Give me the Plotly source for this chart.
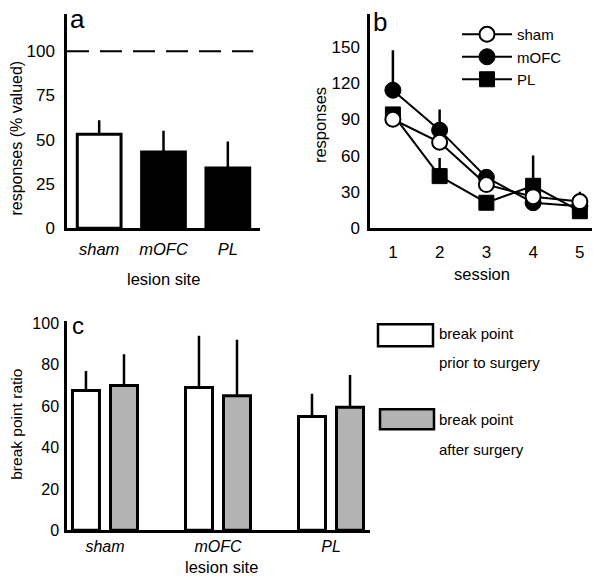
import plotly.graph_objects as go

# Calibration of the page photo: x_screen = 8 + x_fig ; y_screen = 13 + 0.972 * y_fig
PAGE_W, PAGE_H = 600, 581
OFF_X = 8
OFF_Y, SCALE_Y = 13, 0.972
W = PAGE_W - 2 * OFF_X
H = 585

# ---------------- data ----------------
# panel a
a_sites = ["sham", "mOFC", "PL"]
a_resp = [53, 43, 34]
a_err = [8, 12, 15]
a_ref = 100
a_yticks = [0, 25, 50, 75, 100]

# panel b
b_sessions = [1, 2, 3, 4, 5]
b_sham = [90, 71, 36, 26, 22]
b_sham_err = [0, 0, 0, 0, 8]
b_mofc = [114, 81, 42, 21, 18]
b_mofc_err = [33, 17, 0, 0, 0]
b_pl = [94, 43, 21, 35, 14]
b_pl_err = [0, 15, 0, 25, 0]
b_yticks = [0, 30, 60, 90, 120, 150]

# panel c
c_sites = ["sham", "mOFC", "PL"]
c_prior = [67.5, 69, 55]
c_prior_err = [9.5, 25, 11]
c_after = [70, 65, 59.5]
c_after_err = [15, 27, 15.5]
c_yticks = [0, 20, 40, 60, 80, 100]

# ---------------- style ----------------
FONT = "Liberation Sans, Arial, Helvetica, sans-serif"
BLACK = "black"
GRAY = "#b3b3b3"
a_colors = ["white", "black", "black"]
LW = 2.5


def px(p):
    return (p - OFF_X) / W


def py(p):
    return 1 - ((p - OFF_Y) / SCALE_Y) / H


def xd(p0, p1):
    return [px(p0), px(p1)]


def yd(top, bottom):
    return [py(bottom), py(top)]


def err(arr):
    return dict(type="data", array=arr, arrayminus=[0] * len(arr), symmetric=False,
                color=BLACK, thickness=2.5, width=0, visible=True)


fig = go.Figure()

# panel a bars
fig.add_trace(go.Bar(
    x=a_sites, y=a_resp, width=0.68, xaxis="x", yaxis="y",
    marker=dict(color=a_colors, line=dict(color=BLACK, width=3)),
    error_y=err(a_err), showlegend=False,
))

# panel b lines
fig.add_trace(go.Scatter(
    x=b_sessions, y=b_pl, mode="lines+markers", name="PL", legendrank=3,
    xaxis="x2", yaxis="y2",
    line=dict(color=BLACK, width=2),
    marker=dict(symbol="square", size=15, color=BLACK, line=dict(color=BLACK, width=1)),
    error_y=err(b_pl_err),
))
fig.add_trace(go.Scatter(
    x=b_sessions, y=b_mofc, mode="lines+markers", name="mOFC", legendrank=2,
    xaxis="x2", yaxis="y2",
    line=dict(color=BLACK, width=2),
    marker=dict(symbol="circle", size=16, color=BLACK, line=dict(color=BLACK, width=1)),
    error_y=err(b_mofc_err),
))
fig.add_trace(go.Scatter(
    x=b_sessions, y=b_sham, mode="lines+markers", name="sham", legendrank=1,
    xaxis="x2", yaxis="y2",
    line=dict(color=BLACK, width=2),
    marker=dict(symbol="circle", size=15, color="white", line=dict(color=BLACK, width=2)),
    error_y=err(b_sham_err),
))

# panel c bars
fig.add_trace(go.Bar(
    x=c_sites, y=c_prior, xaxis="x3", yaxis="y3", name="break point prior to surgery",
    marker=dict(color="white", line=dict(color=BLACK, width=3)),
    error_y=err(c_prior_err), showlegend=False,
))
fig.add_trace(go.Bar(
    x=c_sites, y=c_after, xaxis="x3", yaxis="y3", name="break point after surgery",
    marker=dict(color=GRAY, line=dict(color=BLACK, width=3)),
    error_y=err(c_after_err), showlegend=False,
))

axis_common = dict(showline=True, linecolor=BLACK, linewidth=LW, showgrid=False,
                   zeroline=False, ticks="", fixedrange=True)
tick_ab = dict(family=FONT, size=17, color=BLACK)
tick_c = dict(family=FONT, size=16, color=BLACK)
catf = dict(family=FONT, size=16.5, color=BLACK, style="italic")
catf_c = dict(family=FONT, size=16, color=BLACK, style="italic")

fig.update_layout(
    width=W, height=H, autosize=False,
    margin=dict(l=0, r=0, t=0, b=0),
    paper_bgcolor="white", plot_bgcolor="white",
    barmode="group", bargap=0.327, bargroupgap=0.29,
    font=dict(family=FONT, color=BLACK),
    xaxis=dict(axis_common, domain=xd(67, 260), range=[-0.5, 2.5], type="category",
               tickfont=catf, ticklabelstandoff=4, anchor="y"),
    yaxis=dict(axis_common, domain=yd(13, 227), range=[0, 121], tickvals=a_yticks,
               tickfont=tick_ab, ticklabelstandoff=6, anchor="x"),
    xaxis2=dict(axis_common, domain=xd(370, 592), range=[0.51, 5.26], tickvals=b_sessions,
                tickfont=tick_ab, ticklabelstandoff=7, anchor="y2"),
    yaxis2=dict(axis_common, domain=yd(13, 227), range=[0, 177], tickvals=b_yticks,
                tickfont=tick_ab, ticklabelstandoff=4, anchor="x2"),
    xaxis3=dict(axis_common, domain=xd(67, 370), range=[-0.336, 2.345], type="category",
                tickfont=catf_c, ticklabelstandoff=0, anchor="y3"),
    yaxis3=dict(axis_common, domain=yd(320, 529), range=[0, 101], tickvals=c_yticks,
                tickfont=tick_c, ticklabelstandoff=2, anchor="x3"),
    legend=dict(x=px(457), y=py(17), xanchor="left", yanchor="top",
                bgcolor="rgba(0,0,0,0)", borderwidth=0, itemwidth=50,
                font=dict(family=FONT, size=15, color=BLACK), tracegroupgap=0),
)

# reference line at 100 % in panel a
fig.add_shape(type="line", xref="x domain", yref="y", x0=0, x1=0.965, y0=a_ref, y1=a_ref,
              line=dict(color=BLACK, width=2, dash="22px,11px"))

# legend for panel c (boxes)
fig.add_shape(type="rect", xref="paper", yref="paper",
              x0=px(378), x1=px(433), y0=py(345), y1=py(323),
              fillcolor="white", line=dict(color=BLACK, width=2.5))
fig.add_shape(type="rect", xref="paper", yref="paper",
              x0=px(380), x1=px(434), y0=py(428), y1=py(408),
              fillcolor=GRAY, line=dict(color=BLACK, width=2.5))


def ann(text, x, y, size=16, angle=0, xanchor="center", yanchor="middle"):
    fig.add_annotation(text=text, x=px(x), y=py(y), xref="paper", yref="paper",
                       showarrow=False, textangle=angle, xanchor=xanchor, yanchor=yanchor,
                       font=dict(family=FONT, size=size, color=BLACK))


# axis titles
ann("responses (% valued)", 17, 137.5, angle=-90)
ann("lesion site", 163, 278, size=16.5)
ann("responses", 320, 124, size=16.5, angle=-90)
ann("session", 482, 273, size=16.5)
ann("break point ratio", 16.5, 423, size=15.5, angle=-90)
ann("lesion site", 221, 566, size=16.5)

# panel letters
ann("a", 68, 18, size=26, xanchor="left")
ann("b", 371, 21, size=26, xanchor="left")
ann("c", 70, 324, size=24, xanchor="left")

# legend texts panel c
ann("break point", 437, 332, size=15, xanchor="left")
ann("prior to surgery", 437, 361, size=15, xanchor="left")
ann("break point", 437, 418, size=15, xanchor="left")
ann("after surgery", 437, 448, size=15, xanchor="left")

fig.write_html("out.html")
